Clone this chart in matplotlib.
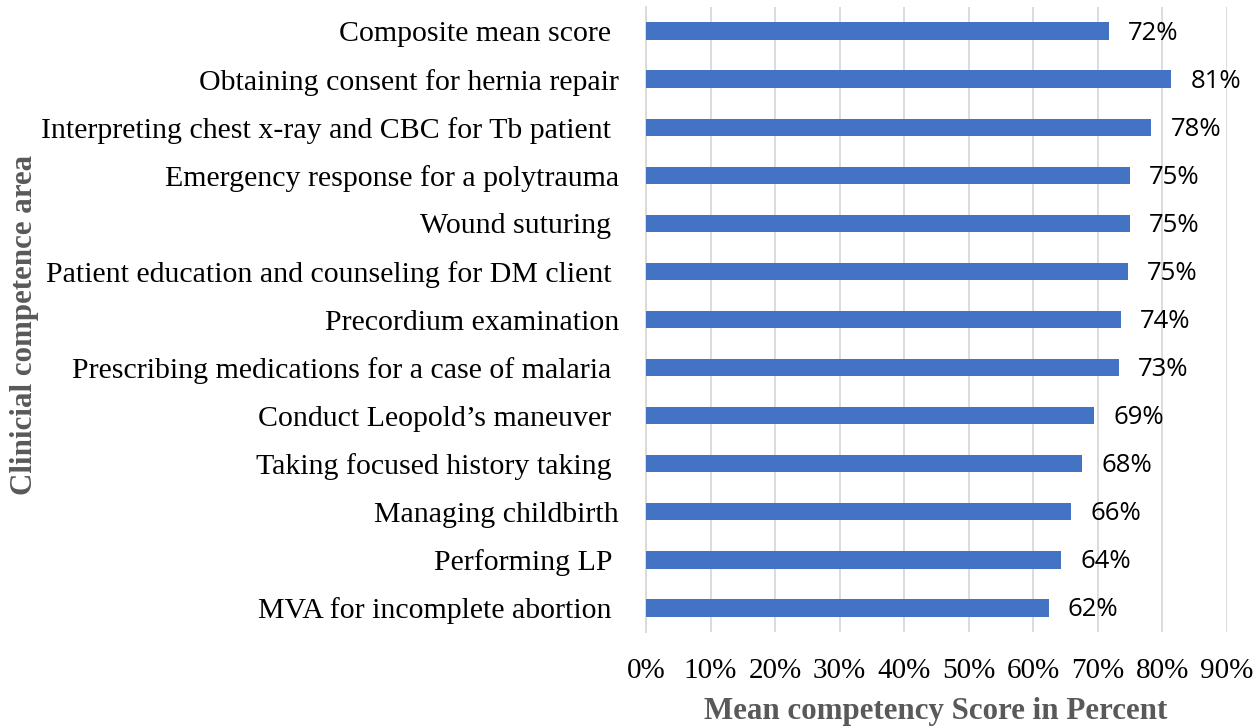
import matplotlib
matplotlib.use("Agg")
import matplotlib.pyplot as plt
from matplotlib.ticker import PercentFormatter

categories = [
    "Composite mean score ",
    "Obtaining consent for hernia repair",
    "Interpreting chest x-ray and CBC for Tb patient ",
    "Emergency response for a polytrauma",
    "Wound suturing ",
    "Patient education and counseling for DM client ",
    "Precordium examination",
    "Prescribing medications for a case of malaria ",
    "Conduct Leopold\u2019s maneuver ",
    "Taking focused history taking ",
    "Managing childbirth",
    "Performing LP ",
    "MVA for incomplete abortion ",
]
values = [71.7, 81.4, 78.3, 75.0, 74.9, 74.6, 73.6, 73.2, 69.4, 67.6, 65.9, 64.3, 62.4]
value_labels = ["72%", "81%", "78%", "75%", "75%", "75%", "74%", "73%", "69%", "68%", "66%", "64%", "62%"]
xticks = [0, 10, 20, 30, 40, 50, 60, 70, 80, 90]

fig = plt.figure(figsize=(12.57, 7.27), dpi=100)
ax = fig.add_axes([646/1257, 1 - 632/727, (1227-646)/1257, (632-7)/727])

y = list(range(len(categories)))
ax.barh(y, values, height=0.36, color="#4472C4", zorder=3)
ax.set_ylim(len(categories) - 0.5, -0.5)
ax.set_xlim(0, 90)
ax.set_xticks(xticks)
ax.xaxis.set_major_formatter(PercentFormatter(decimals=0))
ax.set_yticks(y)
ax.set_yticklabels(categories, fontfamily="Liberation Serif", fontsize=21.5)
for lbl in ax.get_xticklabels():
    lbl.set_fontfamily("Liberation Serif")
    lbl.set_fontsize(21)
ax.tick_params(axis="y", length=0, pad=19.5)
ax.tick_params(axis="x", length=0, pad=19)
ax.grid(axis="x", color="#D9D9D9", linewidth=1.3, zorder=0)
for s in ["top", "right", "bottom"]:
    ax.spines[s].set_visible(False)
ax.spines["left"].set_color("#D9D9D9")
ax.spines["left"].set_linewidth(1.3)

for yi, v, t in zip(y, values, value_labels):
    ax.annotate(t, (v, yi), xytext=(19, -2), textcoords="offset pixels",
                va="center", ha="left", fontfamily="Open Sans", fontsize=18.5, color="#000000")

fig.text(936/1257, 1 - 712/727, "Mean competency Score in Percent", va="center", ha="center",
         fontfamily="Liberation Serif", fontweight="bold", fontsize=22.3, color="#595959")
fig.text(25/1257, 1 - 325/727, "Clinicial competence area", rotation=90, va="center", ha="center",
         fontfamily="Liberation Serif", fontweight="bold", fontsize=22.3, color="#595959")

fig.savefig("out.png", dpi=100)
